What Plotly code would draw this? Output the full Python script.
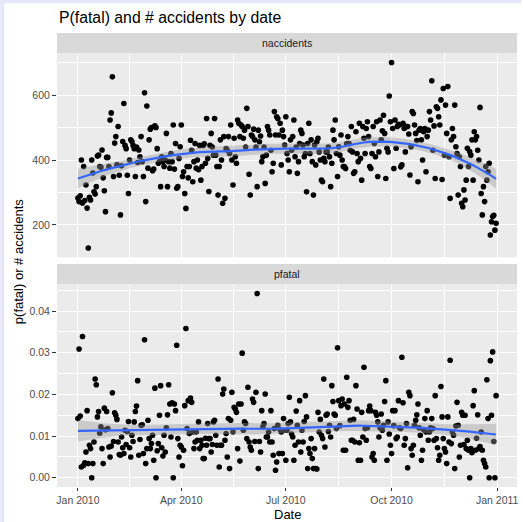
import numpy as np
import pandas as pd
import plotly.graph_objects as go

# ---------------- data ----------------
nacc_jan = [283, 272, 290, 400, 268, 380, 275, 323, 252, 129, 285, 277, 400, 360, 302, 295, 318, 412, 415, 380, 378, 431, 345, 305, 241, 408, 408, 380, 523, 545, 656]
nacc_feb = [349, 452, 472, 385, 503, 353, 231, 382, 457, 574, 445, 435, 353, 297, 400, 462, 457, 445, 435, 349, 440, 392, 431, 410, 472, 395, 349, 607]
nacc_mar = [272, 566, 375, 462, 495, 500, 367, 372, 505, 500, 435, 390, 395, 318, 410, 395, 380, 400, 482, 318, 395, 375, 420, 395, 508, 372, 451, 313, 318, 405, 441]
nacc_apr = [508, 349, 364, 297, 251, 380, 345, 380, 461, 430, 333, 395, 451, 375, 400, 370, 445, 338, 380, 445, 450, 390, 528, 405, 303, 445, 482, 440, 415, 528]
nacc_may = [415, 380, 292, 380, 462, 400, 267, 472, 282, 435, 430, 472, 420, 508, 400, 323, 467, 410, 390, 523, 513, 472, 508, 503, 467, 492, 440, 559, 503, 356, 292]
nacc_jun = [477, 472, 495, 462, 440, 318, 492, 456, 474, 395, 410, 440, 328, 415, 503, 492, 477, 430, 364, 390, 549, 477, 533, 528, 477, 513, 385, 492, 472, 446]
nacc_jul = [533, 420, 400, 364, 462, 430, 472, 523, 410, 440, 359, 395, 451, 492, 482, 446, 410, 420, 302, 451, 513, 420, 462, 395, 292, 446, 385, 456, 467, 425, 400]
nacc_aug = [338, 333, 405, 395, 425, 425, 440, 410, 318, 390, 492, 462, 523, 420, 349, 441, 415, 477, 400, 380, 380, 374, 451, 472, 451, 430, 503, 425, 359, 364, 487]
nacc_sep = [420, 395, 513, 405, 338, 503, 467, 420, 497, 518, 472, 380, 374, 420, 503, 451, 410, 518, 349, 425, 523, 462, 490, 538, 482, 343, 436, 425, 597, 518]
nacc_oct = [700, 497, 374, 523, 436, 503, 510, 508, 379, 385, 513, 497, 425, 503, 503, 480, 354, 441, 549, 543, 508, 482, 460, 333, 492, 497, 462, 400, 487, 497, 364]
nacc_nov = [472, 492, 549, 523, 644, 430, 505, 343, 564, 559, 533, 508, 585, 340, 620, 415, 569, 482, 626, 410, 282, 462, 497, 472, 569, 441, 420, 292, 410, 380]
nacc_dec = [267, 256, 308, 277, 338, 436, 380, 426, 415, 462, 338, 487, 462, 472, 430, 400, 562, 297, 231, 318, 272, 380, 338, 364, 390, 169, 210, 226, 230, 184, 205]

# p(fatal) in thousandths
pf_jan = [14.2, 30.9, 14.8, 2.6, 33.9, 3.0, 3.6, 6.2, 16.1, 3.4, 7.8, 7.0, 0.0, 3.4, 8.6, 23.7, 22.3, 14.6, 15.9, 10.7, 12.2, 7.0, 3.4, 16.7, 11.5, 15.9, 11.8, 7.4, 5.0, 7.6, 20.4]
pf_feb = [8.7, 15.6, 15.0, 14.0, 8.6, 5.6, 5.4, 9.8, 7.2, 5.8, 11.4, 8.0, 11.1, 13.5, 7.2, 5.0, 10.2, 8.7, 13.4, 15.9, 17.2, 23.3, 5.4, 9.2, 12.6, 12.7, 5.8, 33.1]
pf_mar = [3.4, 7.0, 13.8, 9.4, 7.0, 8.2, 10.2, 4.2, 21.5, 0.0, 6.5, 8.2, 15.0, 22.1, 7.2, 5.2, 10.2, 6.2, 12.0, 15.1, 22.3, 17.7, 9.8, 18.0, 0.0, 17.7, 16.1, 31.8, 9.4, 5.0, 7.8]
pf_apr = [7.4, 2.9, 6.6, 17.3, 35.8, 11.8, 18.5, 10.6, 19.1, 18.1, 11.0, 7.0, 8.6, 11.0, 9.0, 13.4, 7.0, 9.0, 7.8, 4.6, 4.6, 9.5, 7.8, 13.0, 9.4, 9.4, 6.2, 8.0, 13.4, 13.8]
pf_may = [10.2, 7.8, 23.7, 2.6, 7.8, 7.8, 20.1, 21.3, 9.0, 10.6, 5.0, 14.2, 2.2, 13.8, 20.5, 11.0, 16.9, 16.5, 15.7, 7.0, 17.7, 4.0, 17.7, 29.9, 11.4, 13.4, 13.0, 9.4, 21.7, 8.6, 7.4]
pf_jun = [6.6, 18.9, 18.1, 8.7, 20.5, 44.2, 2.2, 8.7, 6.2, 16.1, 12.2, 13.0, 20.1, 9.8, 9.8, 11.0, 8.6, 16.1, 8.6, 5.4, 11.8, 1.8, 3.8, 12.6, 5.8, 11.5, 11.0, 5.8, 14.2, 11.4]
pf_jul = [4.2, 11.4, 13.0, 19.3, 13.4, 10.5, 9.8, 4.2, 7.8, 16.0, 12.6, 8.6, 18.5, 6.2, 11.4, 8.6, 13.5, 19.7, 14.6, 2.2, 7.0, 5.8, 9.4, 4.6, 2.2, 7.0, 2.2, 2.1, 15.7, 11.0, 14.0]
pf_aug = [10.2, 9.4, 23.7, 7.4, 15.0, 15.3, 11.1, 12.6, 9.8, 22.1, 18.3, 15.3, 15.0, 11.8, 31.2, 18.5, 12.5, 17.3, 18.9, 6.6, 17.7, 6.6, 24.1, 16.9, 18.5, 13.8, 9.0, 9.0, 14.0, 8.6, 22.1]
pf_sep = [16.5, 4.2, 8.4, 4.2, 15.7, 9.8, 26.5, 11.8, 9.0, 12.0, 16.1, 17.2, 16.1, 5.0, 5.8, 4.2, 15.7, 15.0, 13.4, 9.8, 12.0, 15.3, 11.4, 12.6, 18.3, 23.3, 4.2, 13.4, 10.5, 7.8]
pf_oct = [5.8, 16.1, 12.5, 16.1, 9.4, 9.8, 18.5, 12.0, 11.8, 28.9, 18.0, 7.8, 9.4, 13.0, 2.4, 20.5, 19.7, 7.0, 5.4, 7.8, 12.6, 13.8, 15.1, 17.7, 12.0, 10.2, 4.2, 6.6, 11.5, 14.2, 11.0]
pf_nov = [16.1, 9.0, 11.0, 12.0, 14.2, 11.8, 9.0, 19.7, 9.4, 7.2, 4.2, 5.4, 21.9, 14.6, 9.4, 7.0, 6.2, 3.4, 14.6, 8.6, 28.2, 8.2, 11.0, 10.2, 2.2, 12.4, 18.1, 12.6, 5.0, 7.8]
pf_dec = [15.7, 15.0, 8.0, 15.0, 7.0, 9.0, 6.6, 0.0, 7.0, 6.0, 17.3, 20.9, 6.6, 9.5, 15.1, 7.0, 7.5, 11.0, 6.6, 4.2, 3.4, 2.6, 23.5, 14.2, 0.0, 28.1, 15.0, 30.2, 8.7, 0.0, 19.7]

x_tick_dates = ["2010-01-01", "2010-04-01", "2010-07-01", "2010-10-01", "2011-01-01"]
x_tick_labels = ["Jan 2010", "Apr 2010", "Jul 2010", "Oct 2010", "Jan 2011"]
top_ticks = [200, 400, 600]
top_minor = [300, 500, 700]
bot_ticks = [0.00, 0.01, 0.02, 0.03, 0.04]
bot_minor = [0.005, 0.015, 0.025, 0.035, 0.045]
title_text = "P(fatal) and # accidents by date"

naccidents = np.array(nacc_jan + nacc_feb + nacc_mar + nacc_apr + nacc_may + nacc_jun +
                      nacc_jul + nacc_aug + nacc_sep + nacc_oct + nacc_nov + nacc_dec, dtype=float)
pfatal = np.array(pf_jan + pf_feb + pf_mar + pf_apr + pf_may + pf_jun +
                  pf_jul + pf_aug + pf_sep + pf_oct + pf_nov + pf_dec, dtype=float) / 1000.0

n = min(len(naccidents), len(pfatal))
naccidents = naccidents[:n]
pfatal = pfatal[:n]
dates = pd.date_range("2010-01-01", periods=n, freq="D")
xd = np.asarray((dates - dates[0]).days, dtype=float)


# ---------------- loess (span 0.75, degree 2) with standard errors ----------------
def loess_row(x, x0, q):
    d = np.abs(x - x0)
    h = np.sort(d)[q - 1]
    h = max(h, 1e-9)
    u = np.clip(d / h, 0, 1)
    w = (1 - u ** 3) ** 3
    X = np.vstack([np.ones_like(x), x - x0, (x - x0) ** 2]).T
    XtW = X.T * w
    A = XtW @ X
    return np.linalg.solve(A, XtW)[0]


def loess_fit(x, y, xs, span=0.75):
    m = len(x)
    q = int(np.floor(m * span))
    L = np.array([loess_row(x, xi, q) for xi in x])
    resid = y - L @ y
    IL = np.eye(m) - L
    delta1 = np.trace(IL.T @ IL)
    sigma = np.sqrt(np.sum(resid ** 2) / delta1)
    fit, se = [], []
    for x0 in xs:
        l = loess_row(x, x0, q)
        fit.append(l @ y)
        se.append(sigma * np.sqrt(np.sum(l ** 2)))
    return np.array(fit), np.array(se)


xs = np.linspace(xd.min(), xd.max(), 80)
xs_dates = dates[0] + pd.to_timedelta(xs, unit="D")
tq = 1.967

# ---------------- layout geometry ----------------
W, H = 523, 522
ml, mr, mt, mb = 57, 4, 33, 35
ph = H - mt - mb
pw = W - ml - mr


def py(pix):
    return (H - mb - pix) / ph


def px(pix):
    return (pix - ml) / pw


top_dom = [py(257.3), py(53.3)]
top_strip = [py(53.3), py(33)]
bot_dom = [0.0, py(284.3)]
bot_strip = [py(284.3), py(264)]

span_days = (dates[-1] - dates[0])
x_range = [dates[0] - 0.05 * span_days, dates[-1] + 0.05 * span_days]


def expand(v):
    lo, hi = float(np.min(v)), float(np.max(v))
    e = 0.05 * (hi - lo)
    return [lo - e, hi + e]


major = pd.to_datetime(x_tick_dates)
minor_x = [major[i] + (major[i + 1] - major[i]) / 2 for i in range(len(major) - 1)]

fig = go.Figure()

PT = dict(mode="markers", marker=dict(color="black", size=5.6), hoverinfo="skip", showlegend=False)
RIB = dict(fill="toself", fillcolor="rgba(153,153,153,0.4)", line=dict(width=0), mode="lines",
           hoverinfo="skip", showlegend=False)
LN = dict(mode="lines", line=dict(color="#3366FF", width=2.2), hoverinfo="skip", showlegend=False)

for yvals, xa, ya in [(naccidents, "x2", "y2"), (pfatal, "x", "y")]:
    fit, se = loess_fit(xd, yvals, xs)
    up, lo = fit + tq * se, fit - tq * se
    fig.add_trace(go.Scatter(x=dates, y=yvals, xaxis=xa, yaxis=ya, **PT))
    fig.add_trace(go.Scatter(x=list(xs_dates) + list(xs_dates[::-1]), y=list(up) + list(lo[::-1]),
                             xaxis=xa, yaxis=ya, **RIB))
    fig.add_trace(go.Scatter(x=xs_dates, y=fit, xaxis=xa, yaxis=ya, **LN))

FONT = "Liberation Sans, Arial, Helvetica, sans-serif"
grid = dict(showgrid=True, gridcolor="white", gridwidth=1.2, zeroline=False, showline=False)
minor_grid = dict(showgrid=True, gridcolor="white", gridwidth=0.6, ticks="")
tickfont = dict(family=FONT, size=10.5, color="#4D4D4D")

fig.update_layout(
    width=W, height=H,
    margin=dict(l=ml, r=mr, t=mt, b=mb, pad=0),
    paper_bgcolor="white", plot_bgcolor="#EBEBEB",
    font=dict(family=FONT, color="black"),
    showlegend=False,
    xaxis=dict(domain=[0, 1], anchor="y", range=x_range, type="date",
               tickmode="array", tickvals=list(major), ticktext=x_tick_labels,
               ticks="outside", ticklen=3, tickwidth=1, tickcolor="#333333",
               tickfont=tickfont, minor=dict(tickmode="array", tickvals=minor_x, **minor_grid), **grid),
    xaxis2=dict(domain=[0, 1], anchor="y2", range=x_range, type="date", matches="x",
                tickmode="array", tickvals=list(major), showticklabels=False, ticks="",
                minor=dict(tickmode="array", tickvals=minor_x, **minor_grid), **grid),
    yaxis=dict(domain=bot_dom, anchor="x", range=expand(pfatal),
               tickmode="array", tickvals=bot_ticks, ticktext=["%.2f" % v for v in bot_ticks],
               ticks="outside", ticklen=4, tickwidth=1, tickcolor="#333333", tickfont=tickfont,
               minor=dict(tickmode="array", tickvals=bot_minor, **minor_grid), **grid),
    yaxis2=dict(domain=top_dom, anchor="x2", range=expand(naccidents),
                tickmode="array", tickvals=top_ticks, ticktext=[str(v) for v in top_ticks],
                ticks="outside", ticklen=4, tickwidth=1, tickcolor="#333333", tickfont=tickfont,
                minor=dict(tickmode="array", tickvals=top_minor, **minor_grid), **grid),
)

shapes = [
    dict(type="rect", xref="paper", yref="paper", x0=0, x1=1, y0=top_strip[0], y1=top_strip[1],
         fillcolor="#D9D9D9", line=dict(width=0), layer="below"),
    dict(type="rect", xref="paper", yref="paper", x0=0, x1=1, y0=bot_strip[0], y1=bot_strip[1],
         fillcolor="#D9D9D9", line=dict(width=0), layer="below"),
    # lavender frame (left and top edges)
    dict(type="rect", xref="paper", yref="paper", x0=px(0), x1=px(4), y0=py(H), y1=py(0),
         fillcolor="#E6E6FA", line=dict(width=0)),
    dict(type="rect", xref="paper", yref="paper", x0=px(0), x1=px(W), y0=py(3.3), y1=py(0),
         fillcolor="#E6E6FA", line=dict(width=0)),
]
fig.update_layout(shapes=shapes)

ann = [
    dict(text=title_text, x=0, y=py(17.5), xref="paper", yref="paper", xanchor="left", yanchor="middle",
         showarrow=False, font=dict(family=FONT, size=15.8, color="black")),
    dict(text="naccidents", x=0.5, y=(top_strip[0] + top_strip[1]) / 2, xref="paper", yref="paper",
         xanchor="center", yanchor="middle", showarrow=False, font=dict(family=FONT, size=10.5, color="#1A1A1A")),
    dict(text="pfatal", x=0.5, y=(bot_strip[0] + bot_strip[1]) / 2, xref="paper", yref="paper",
         xanchor="center", yanchor="middle", showarrow=False, font=dict(family=FONT, size=10.5, color="#1A1A1A")),
    dict(text="Date", x=0.5, y=py(514.5), xref="paper", yref="paper", xanchor="center", yanchor="middle",
         showarrow=False, font=dict(family=FONT, size=13, color="black")),
    dict(text="p(fatal) or # accidents", x=px(18), y=py(261), xref="paper", yref="paper",
         xanchor="center", yanchor="middle", textangle=-90, showarrow=False,
         font=dict(family=FONT, size=13, color="black")),
]
fig.update_layout(annotations=ann)

fig.write_html("out.html", config={"displayModeBar": False},
               post_script="document.body.style.margin='0px';document.body.style.padding='0px';"
                           "document.body.style.overflow='hidden';")
